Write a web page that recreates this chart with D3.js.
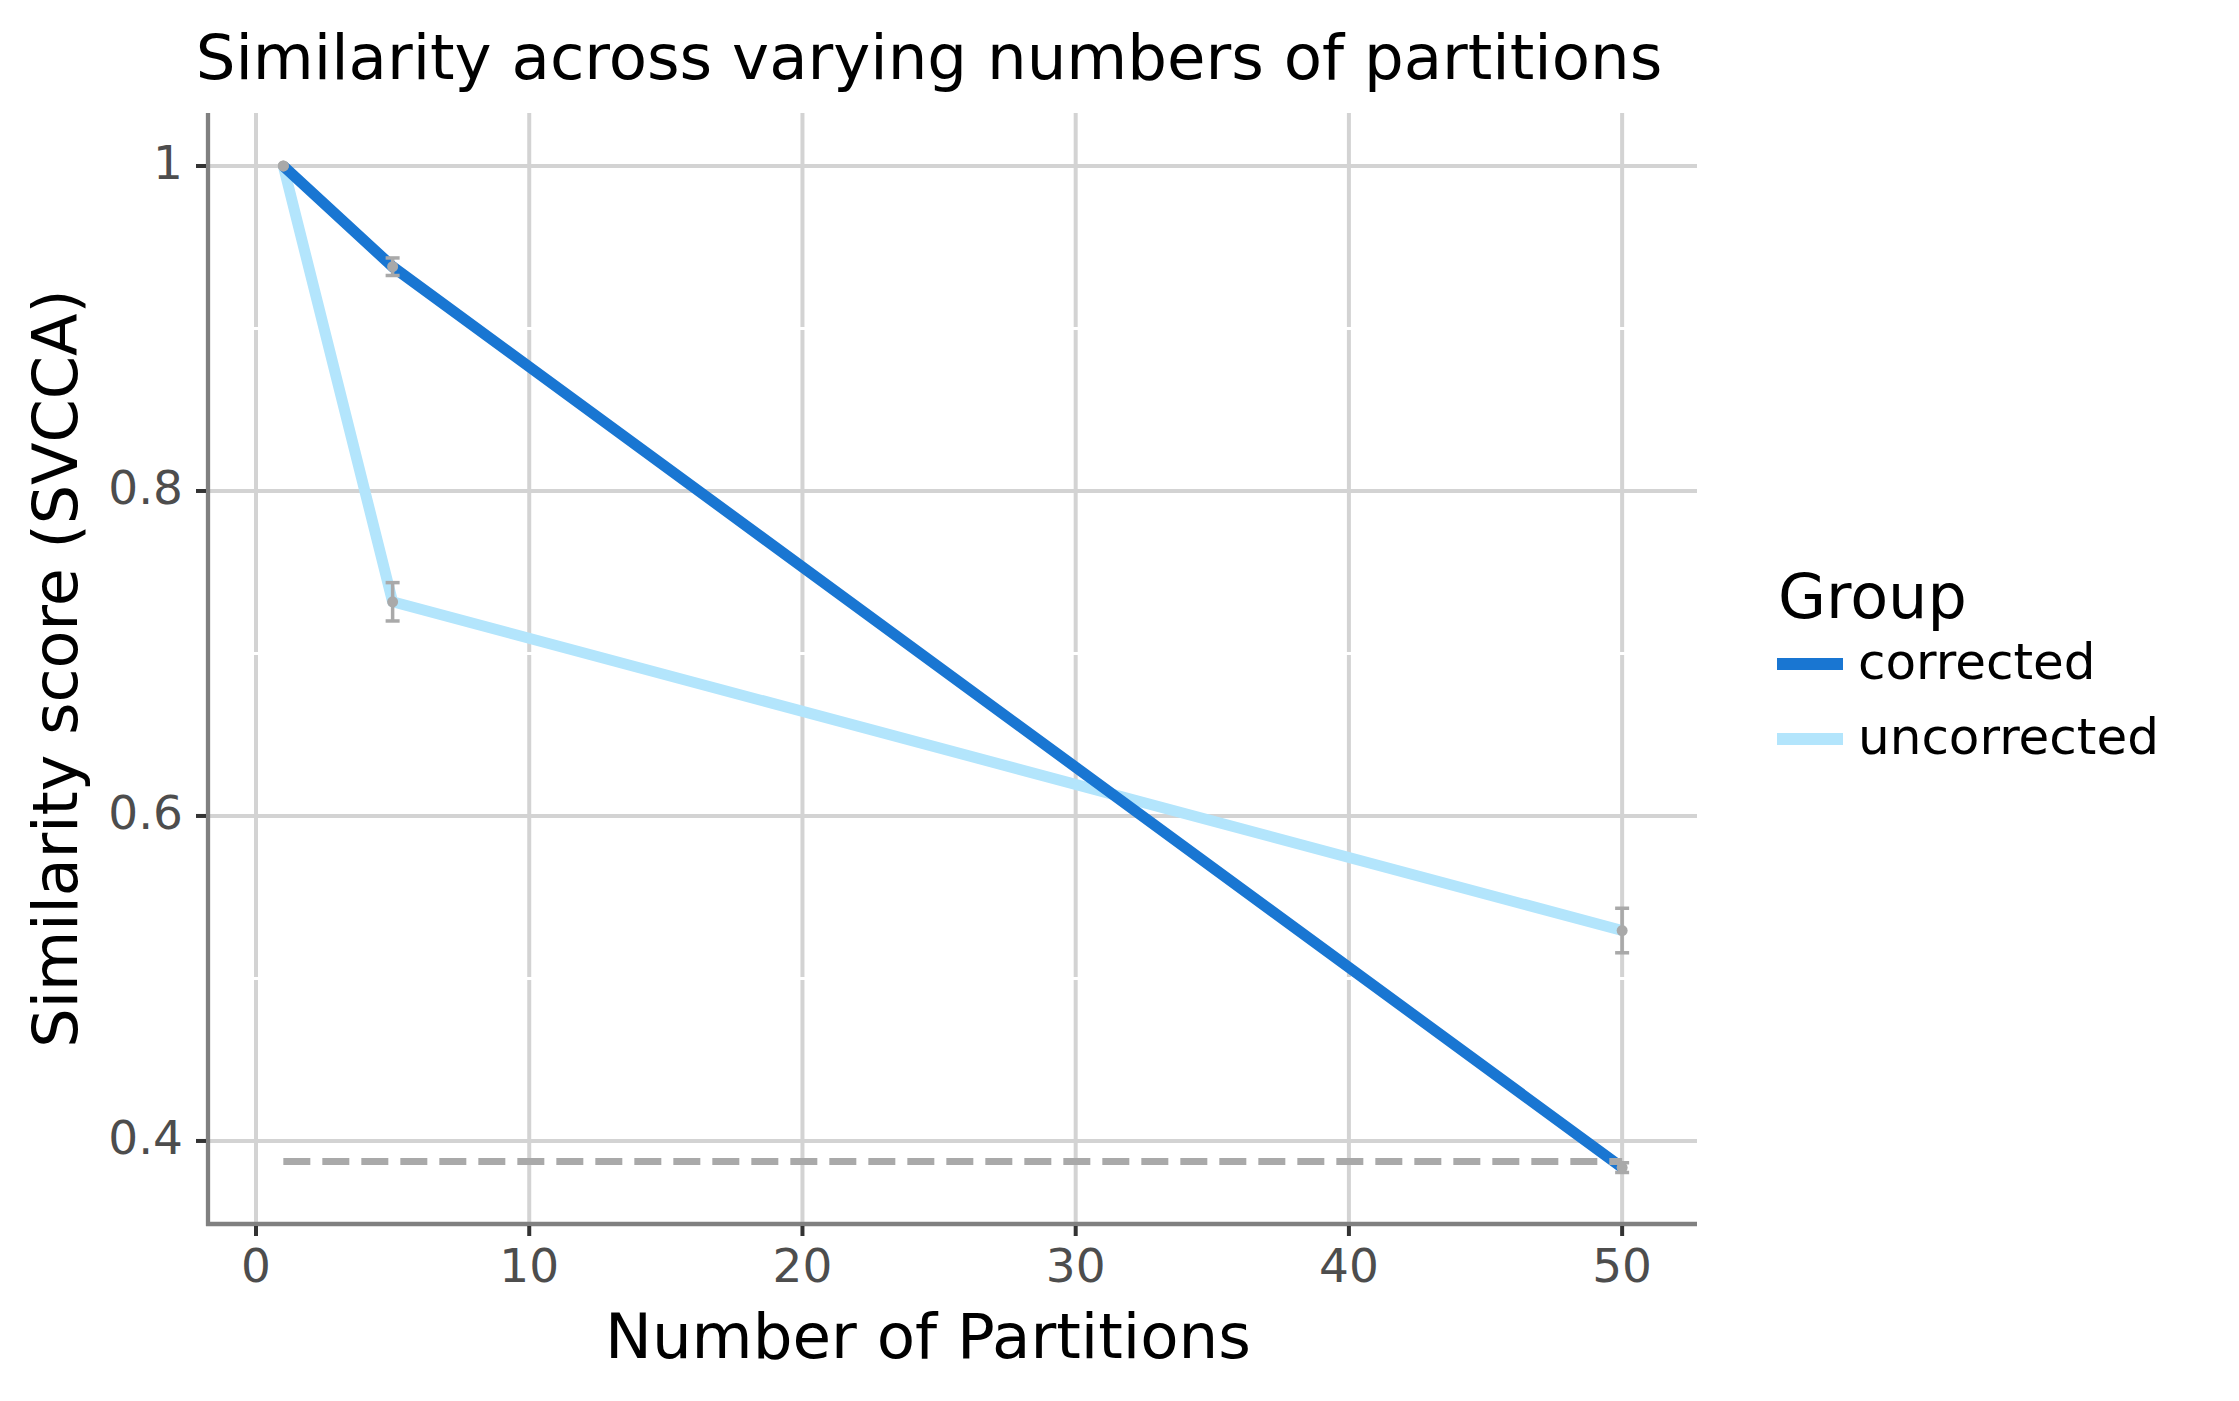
<!DOCTYPE html>
<html>
<head>
<meta charset="utf-8">
<script src="https://cdn.jsdelivr.net/npm/d3@7"></script>
<style>
    body { margin: 0; background: #ffffff; }
    svg text { font-family: "DejaVu Sans", sans-serif; }
</style>
</head>
<body>
<svg id="chart" width="2239" height="1401"></svg>
<script>
// data
const partitions = [1, 5, 50];
const corrected = [1.0, 0.938, 0.3836];
const corrected_err = [0, 0.0054, 0.003];
const uncorrected = [1.0, 0.7318, 0.5295];
const uncorrected_err = [0, 0.0118, 0.0137];
const random_baseline = 0.3873;

const x_ticks = [0, 10, 20, 30, 40, 50];
const y_ticks = [0.4, 0.6, 0.8, 1];
const y_minor = [0.5, 0.7, 0.9];
const groups = ["corrected", "uncorrected"];
const group_colors = ["#1976d2", "#b3e5fc"];

const svg = d3.select("#chart");
svg.append("rect").attr("width", 2239).attr("height", 1401).attr("fill", "#ffffff");

// panel edges
const panel = { left: 208, right: 1697, top: 113, bottom: 1224 };

const x = d3.scaleLinear().domain([-1.757, 52.74]).range([panel.left, panel.right]);
const y = d3.scaleLinear().domain([0.3489, 1.0326]).range([panel.bottom, panel.top]);

// grid
const grid = svg.append("g");
grid.selectAll(".vmaj").data(x_ticks).enter().append("line")
    .attr("x1", d => x(d)).attr("x2", d => x(d))
    .attr("y1", panel.top).attr("y2", panel.bottom)
    .attr("stroke", "#d3d3d3").attr("stroke-width", 4);
grid.selectAll(".hmin").data(y_minor).enter().append("line")
    .attr("x1", panel.left).attr("x2", panel.right)
    .attr("y1", d => y(d)).attr("y2", d => y(d))
    .attr("stroke", "#ffffff").attr("stroke-width", 3);
grid.selectAll(".hmaj").data(y_ticks).enter().append("line")
    .attr("x1", panel.left).attr("x2", panel.right)
    .attr("y1", d => y(d)).attr("y2", d => y(d))
    .attr("stroke", "#d3d3d3").attr("stroke-width", 4);

// series lines
const line = d3.line().x(d => x(d[0])).y(d => y(d[1]));
const series = [
    partitions.map((p, i) => [p, corrected[i]]),
    partitions.map((p, i) => [p, uncorrected[i]])
];

// draw uncorrected first, corrected on top
[1, 0].forEach(k => {
    svg.append("path")
        .attr("d", line(series[k]))
        .attr("fill", "none")
        .attr("stroke", group_colors[k])
        .attr("stroke-width", 11)
        .attr("stroke-linejoin", "round");
});

// random baseline
svg.append("line")
    .attr("x1", x(partitions[0])).attr("x2", x(partitions[partitions.length - 1]))
    .attr("y1", y(random_baseline)).attr("y2", y(random_baseline))
    .attr("stroke", "#a9a9a9").attr("stroke-width", 7)
    .attr("stroke-dasharray", "27,12");

// error bars and points
function errorbars(vals, errs) {
    const g = svg.append("g").attr("stroke", "#a9a9a9").attr("stroke-width", 3.5);
    partitions.forEach((p, i) => {
        if (errs[i] <= 0) return;
        const cx = x(p), hw = 7;
        g.append("line").attr("x1", cx).attr("x2", cx)
            .attr("y1", y(vals[i] + errs[i])).attr("y2", y(vals[i] - errs[i]));
        g.append("line").attr("x1", cx - hw).attr("x2", cx + hw)
            .attr("y1", y(vals[i] + errs[i])).attr("y2", y(vals[i] + errs[i]));
        g.append("line").attr("x1", cx - hw).attr("x2", cx + hw)
            .attr("y1", y(vals[i] - errs[i])).attr("y2", y(vals[i] - errs[i]));
    });
    svg.append("g").selectAll("circle").data(partitions).enter().append("circle")
        .attr("cx", d => x(d)).attr("cy", (d, i) => y(vals[i]))
        .attr("r", 5.5).attr("fill", "#a9a9a9");
}
errorbars(corrected, corrected_err);
errorbars(uncorrected, uncorrected_err);

// axes
svg.append("line").attr("x1", panel.left).attr("x2", panel.left)
    .attr("y1", panel.top).attr("y2", panel.bottom + 2)
    .attr("stroke", "#808080").attr("stroke-width", 4.3);
svg.append("line").attr("x1", panel.left - 2).attr("x2", panel.right)
    .attr("y1", panel.bottom).attr("y2", panel.bottom)
    .attr("stroke", "#808080").attr("stroke-width", 4.3);

const xt = svg.append("g");
xt.selectAll("line").data(x_ticks).enter().append("line")
    .attr("x1", d => x(d)).attr("x2", d => x(d))
    .attr("y1", panel.bottom + 2).attr("y2", panel.bottom + 12)
    .attr("stroke", "#333333").attr("stroke-width", 4);
xt.selectAll("text").data(x_ticks).enter().append("text")
    .attr("x", d => x(d)).attr("y", 1282)
    .attr("text-anchor", "middle")
    .attr("font-size", 47).attr("fill", "#4d4d4d")
    .text(d => d);

const yt = svg.append("g");
yt.selectAll("line").data(y_ticks).enter().append("line")
    .attr("x1", panel.left - 12).attr("x2", panel.left - 2)
    .attr("y1", d => y(d)).attr("y2", d => y(d))
    .attr("stroke", "#333333").attr("stroke-width", 4);
yt.selectAll("text").data(y_ticks).enter().append("text")
    .attr("x", 183).attr("y", d => y(d) + 13)
    .attr("text-anchor", "end")
    .attr("font-size", 47).attr("fill", "#4d4d4d")
    .text(d => d);

// titles
svg.append("text").attr("x", 929).attr("y", 79)
    .attr("text-anchor", "middle").attr("font-size", 62.6).attr("fill", "#000")
    .text("Similarity across varying numbers of partitions");
svg.append("text").attr("x", 928).attr("y", 1358)
    .attr("text-anchor", "middle").attr("font-size", 62.7).attr("fill", "#000")
    .text("Number of Partitions");
svg.append("text")
    .attr("transform", "translate(77," + ((panel.top + panel.bottom) / 2) + ") rotate(-90)")
    .attr("text-anchor", "middle").attr("font-size", 62).attr("fill", "#000")
    .text("Similarity score (SVCCA)");

// legend
const legend = svg.append("g");
legend.append("text").attr("x", 1778).attr("y", 618)
    .attr("font-size", 62).attr("fill", "#000").text("Group");
groups.forEach((g, i) => {
    const cy = 664 + i * 75;
    legend.append("line").attr("x1", 1777).attr("x2", 1843)
        .attr("y1", cy).attr("y2", cy)
        .attr("stroke", group_colors[i]).attr("stroke-width", 12);
    legend.append("text").attr("x", 1858).attr("y", cy + 15)
        .attr("font-size", 50).attr("fill", "#000").text(g);
});
</script>
</body>
</html>
